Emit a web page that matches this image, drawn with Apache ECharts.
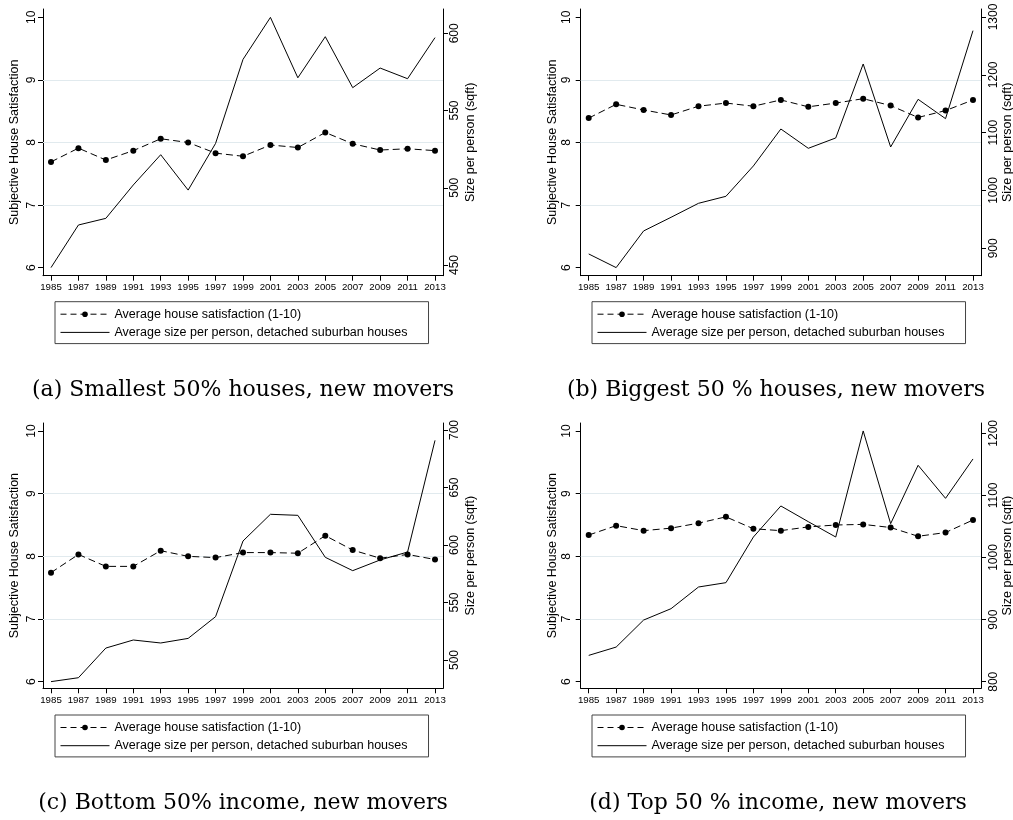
<!DOCTYPE html>
<html>
<head>
<meta charset="utf-8">
<script src="https://cdn.jsdelivr.net/npm/echarts@6/dist/echarts.min.js"></script>
<style>
html,body{margin:0;padding:0;background:#fff;}
#chart{width:1013px;height:820px;}
</style>
</head>
<body>
<div id="chart"></div>
<script>
// ---------- data ----------
const years = [1985, 1987, 1989, 1991, 1993, 1995, 1997, 1999, 2001, 2003, 2005, 2007, 2009, 2011, 2013];

const satA  = [7.69, 7.91, 7.72, 7.87, 8.06, 8.00, 7.83, 7.78, 7.96, 7.92, 8.16, 7.98, 7.88, 7.90, 7.87];
const sizeA = [448.3, 475.9, 480.2, 501.8, 521.4, 498.5, 528.7, 583.1, 610.3, 571.2, 597.8, 564.8, 577.5, 570.6, 597.2];

const satB  = [8.39, 8.61, 8.52, 8.44, 8.58, 8.63, 8.58, 8.68, 8.57, 8.63, 8.70, 8.59, 8.40, 8.51, 8.68];
const sizeB = [890.2, 866.6, 930.0, 953.6, 977.8, 989.9, 1042.4, 1106.3, 1072.9, 1090.8, 1218.7, 1075.2, 1157.6, 1124.2, 1276.4];

const satC  = [7.74, 8.03, 7.84, 7.84, 8.09, 8.00, 7.98, 8.06, 8.06, 8.05, 8.33, 8.10, 7.97, 8.03, 7.95];
const sizeC = [481.2, 484.6, 510.4, 517.4, 514.8, 518.8, 537.7, 603.5, 626.7, 625.8, 589.3, 577.7, 587.0, 593.9, 691.0];

const satD  = [8.34, 8.49, 8.41, 8.45, 8.53, 8.63, 8.44, 8.41, 8.47, 8.50, 8.51, 8.46, 8.32, 8.38, 8.58];
const sizeD = [842.4, 855.8, 899.3, 917.6, 952.5, 959.5, 1033.0, 1083.0, 1057.7, 1033.0, 1203.8, 1054.5, 1148.5, 1095.3, 1158.7];

const leftTicks   = [6, 7, 8, 9, 10];
const gridValues  = [7, 8, 9];
const rightTicksA = [450, 500, 550, 600];
const rightTicksB = [900, 1000, 1100, 1200, 1300];
const rightTicksC = [500, 550, 600, 650, 700];
const rightTicksD = [800, 900, 1000, 1100, 1200];

const satName  = 'Average house satisfaction (1-10)';
const sizeName = 'Average size per person, detached suburban houses';
const leftTitle  = 'Subjective House Satisfaction';
const rightTitle = 'Size per person (sqft)';
const captions = [
  '(a) Smallest 50% houses, new movers',
  '(b) Biggest 50 % houses, new movers',
  '(c) Bottom 50% income, new movers',
  '(d) Top 50 % income, new movers'
];

// ---------- layout ----------
const SANS = '"Liberation Sans", Arial, Helvetica, sans-serif';
const SERIF = '"DejaVu Serif", "Liberation Serif", serif';
const panels = [
  { sat: satA, size: sizeA, rticks: rightTicksA,
    grid: { left: 43, top: 9, width: 400, height: 266.7 },
    lRange: [5.872, 10.133], rRange: [443.07, 615.73],
    lMargin: 5, rMargin: 6, lGap: 22, rGap: 21,
    legend: { left: 55, top: 301.7 }, cap: [243, 390] },
  { sat: satB, size: sizeB, rticks: rightTicksB,
    grid: { left: 580.7, top: 9, width: 400.3, height: 266.7 },
    lRange: [5.872, 10.133], rRange: [852.6, 1313.8],
    lMargin: 8.5, rMargin: 6.5, lGap: 22, rGap: 20,
    legend: { left: 592, top: 301.7 }, cap: [776, 390] },
  { sat: satC, size: sizeC, rticks: rightTicksC,
    grid: { left: 43, top: 423, width: 400, height: 265.3 },
    lRange: [5.8947, 10.1276], rRange: [475.4, 706.1],
    lMargin: 5, rMargin: 6, lGap: 22, rGap: 21,
    legend: { left: 55, top: 715 }, cap: [243, 803] },
  { sat: satD, size: sizeD, rticks: rightTicksD,
    grid: { left: 580.7, top: 423, width: 400.3, height: 265.3 },
    lRange: [5.8947, 10.1276], rRange: [789.4, 1216.6],
    lMargin: 8.5, rMargin: 6.5, lGap: 22, rGap: 20,
    legend: { left: 592, top: 715 }, cap: [778, 803] }
];

const axisLineStyle = { show: true, onZero: false, lineStyle: { color: '#000', width: 1 } };
const tickStyle = { show: true, length: 5, lineStyle: { color: '#000', width: 1 } };

const option = {
  backgroundColor: '#fff',
  animation: false,
  grid: [], xAxis: [], yAxis: [], series: [], legend: [], graphic: []
};

panels.forEach((p, i) => {
  option.grid.push(Object.assign({ outerBoundsMode: 'none', containLabel: false }, p.grid));
  option.xAxis.push({
    type: 'value', gridIndex: i, position: 'bottom',
    min: 1984.4167, max: 2013.5833,
    axisLine: axisLineStyle,
    axisTick: Object.assign({ customValues: years }, tickStyle),
    axisLabel: { customValues: years, formatter: v => String(v), fontSize: 9.7,
      fontFamily: SANS, color: '#000', margin: 7 },
    splitLine: { show: false }
  });
  option.yAxis.push({
    type: 'value', gridIndex: i, position: 'left',
    min: p.lRange[0], max: p.lRange[1],
    axisLine: axisLineStyle,
    axisTick: Object.assign({ customValues: leftTicks }, tickStyle),
    axisLabel: { customValues: leftTicks, formatter: v => String(v), rotate: 90, fontSize: 12,
      fontFamily: SANS, color: '#000', margin: p.lMargin },
    splitLine: { show: false },
    name: leftTitle, nameLocation: 'middle', nameRotate: 90, nameGap: p.lGap,
    nameMoveOverlap: false,
    nameTextStyle: { fontSize: 12.5, fontFamily: SANS, color: '#000' }
  });
  option.yAxis.push({
    type: 'value', gridIndex: i, position: 'right',
    min: p.rRange[0], max: p.rRange[1],
    axisLine: axisLineStyle,
    axisTick: Object.assign({ customValues: p.rticks }, tickStyle),
    axisLabel: { customValues: p.rticks, formatter: v => String(v), rotate: 90, fontSize: 12,
      fontFamily: SANS, color: '#000', margin: p.rMargin },
    splitLine: { show: false },
    name: rightTitle, nameLocation: 'middle', nameRotate: 90, nameGap: p.rGap,
    nameMoveOverlap: false,
    nameTextStyle: { fontSize: 12.5, fontFamily: SANS, color: '#000' }
  });
  option.series.push({
    name: satName, type: 'line', xAxisIndex: i, yAxisIndex: 2 * i,
    data: years.map((y, k) => [y, p.sat[k]]),
    symbol: 'circle', symbolSize: 6, z: 4,
    itemStyle: { color: '#000' },
    lineStyle: { color: '#000', width: 1, type: [7, 4] },
    markLine: {
      silent: true, symbol: 'none', z: 1,
      label: { show: false },
      lineStyle: { color: '#e1eaee', width: 1, type: 'solid' },
      data: gridValues.map(v => ({ yAxis: v }))
    }
  });
  option.series.push({
    name: sizeName, type: 'line', xAxisIndex: i, yAxisIndex: 2 * i + 1,
    data: years.map((y, k) => [y, p.size[k]]),
    symbol: 'none', z: 3,
    itemStyle: { color: '#000' },
    lineStyle: { color: '#000', width: 1, type: 'solid' }
  });
  option.legend.push({
    orient: 'vertical', left: p.legend.left, top: p.legend.top,
    itemWidth: 49, itemHeight: 7, itemGap: 5.2,
    padding: [6, 21, 4.7, 5],
    borderColor: '#444', borderWidth: 1, borderRadius: 0,
    backgroundColor: '#fff',
    selectedMode: false,
    textStyle: { fontSize: 12.5, fontFamily: SANS, color: '#000' },
    data: [
      { name: satName, lineStyle: { width: 1, type: [6, 4] } },
      { name: sizeName, lineStyle: { width: 1, type: 'solid' }, itemStyle: { opacity: 0 } }
    ]
  });
  option.graphic.push({
    type: 'text', x: p.cap[0], y: p.cap[1],
    style: { text: captions[i], fontSize: 22, fontFamily: SERIF, fill: '#000',
      textAlign: 'center', verticalAlign: 'middle', textVerticalAlign: 'middle' }
  });
});

const chart = echarts.init(document.getElementById('chart'), null, { renderer: 'canvas' });
chart.setOption(option);
</script>
</body>
</html>
